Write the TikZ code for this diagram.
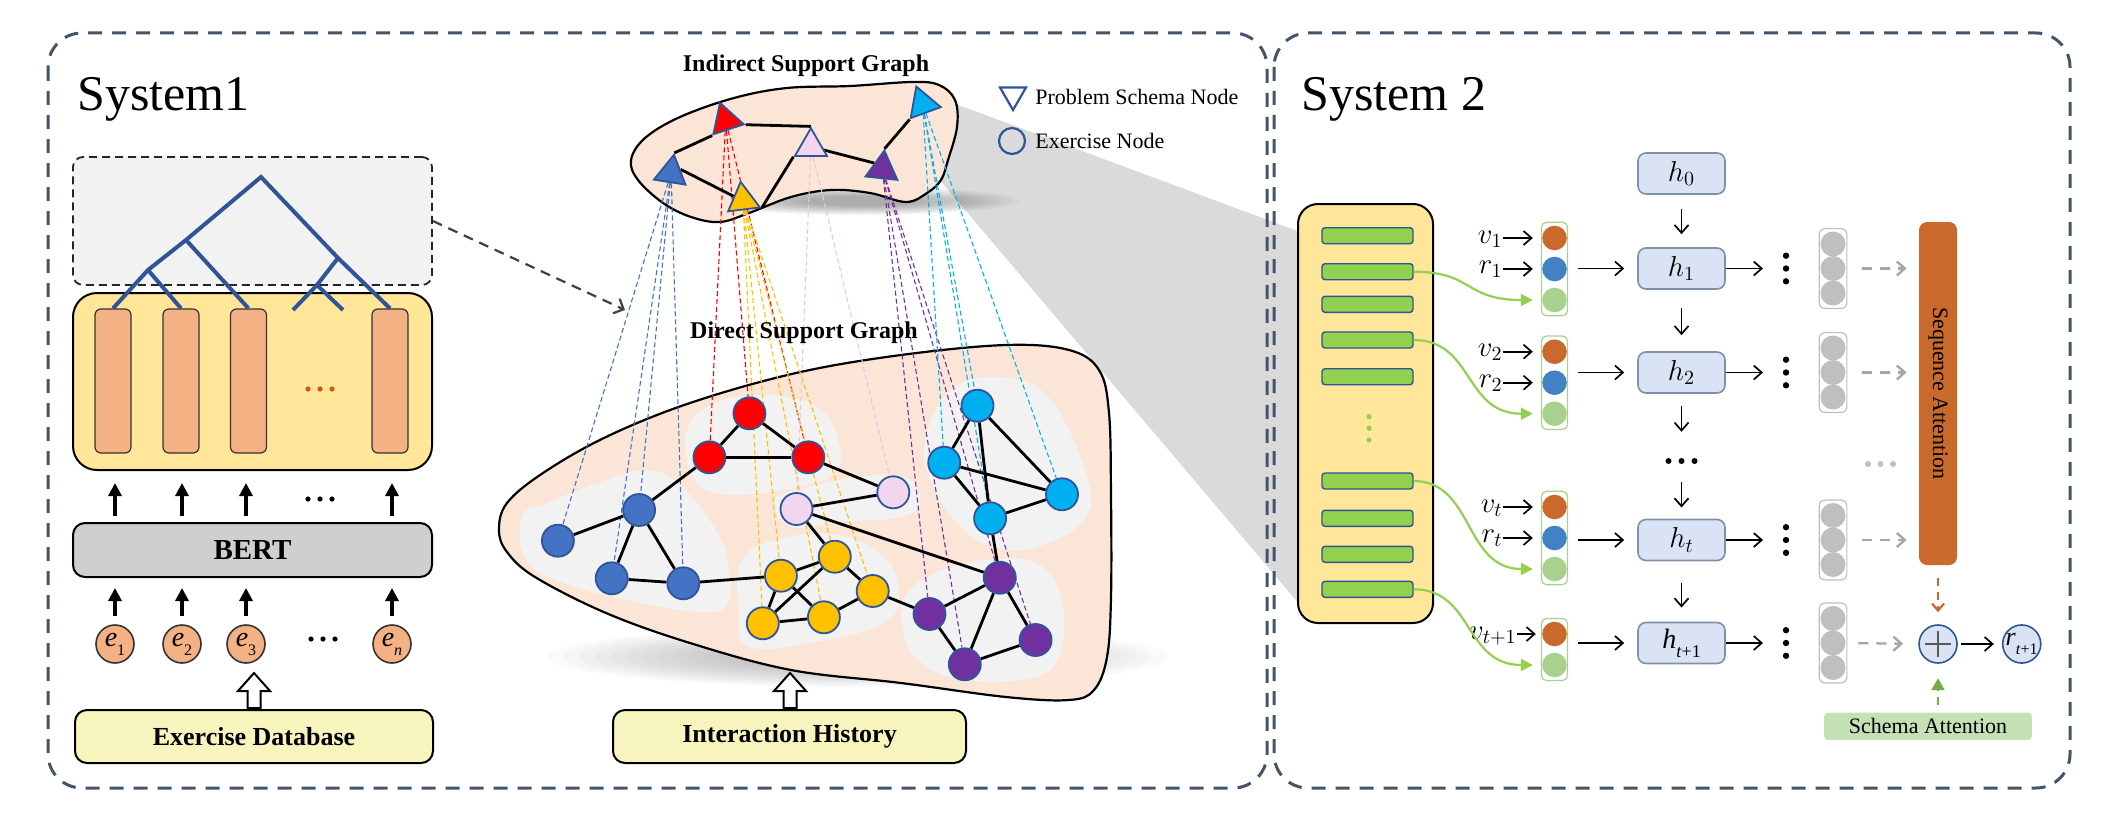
\documentclass[tikz,border=0pt]{standalone}
\usepackage{fontspec}
\setmainfont{Liberation Serif}
\usetikzlibrary{arrows.meta,shapes.geometric,calc}
\pgfdeclarelayer{bg}
\pgfdeclarelayer{edgelayer}
\pgfsetlayers{bg,edgelayer,main}

\definecolor{frameC}{HTML}{44546A}
\definecolor{dendroC}{HTML}{2F5597}
\definecolor{yboxC}{HTML}{FFE699}
\definecolor{barC}{HTML}{F4B183}
\definecolor{bertC}{HTML}{D0CECE}
\definecolor{dbC}{HTML}{F7F4BD}
\definecolor{peachC}{HTML}{FBE5D6}
\definecolor{regC}{HTML}{F2F2F2}
\definecolor{wedgeC}{HTML}{DADADA}
\definecolor{nBlue}{HTML}{4472C4}
\definecolor{nRed}{HTML}{FF0000}
\definecolor{nPink}{HTML}{F2D6EF}
\definecolor{nPinkL}{HTML}{EBC3E8}
\definecolor{nYel}{HTML}{FFC000}
\definecolor{nCyan}{HTML}{00B0F0}
\definecolor{nPur}{HTML}{7030A0}
\definecolor{nodeB}{HTML}{2F5597}
\definecolor{gBar}{HTML}{92D050}
\definecolor{hFill}{HTML}{DAE3F3}
\definecolor{hLine}{HTML}{7F8FA6}
\definecolor{orgC}{RGB}{201,106,44}
\definecolor{bluC}{RGB}{66,129,196}
\definecolor{lgC}{HTML}{A9D18E}
\definecolor{grC}{HTML}{BFBFBF}
\definecolor{grArr}{HTML}{A6A6A6}
\definecolor{schC}{HTML}{C5E0B4}
\definecolor{triG}{HTML}{70AD47}
\definecolor{dotO}{HTML}{C55A11}

\newcommand\lowsub[2][8]{\raisebox{-0.32em}{\fontsize{#1}{#1}\selectfont #2}}

\tikzset{
  frame/.style={draw=frameC, line width=1.5pt, dash pattern=on 7pt off 5pt, rounded corners=17pt},
  dendrobox/.style={draw=black!85, fill=regC, line width=0.9pt, dash pattern=on 4pt off 2.5pt, rounded corners=5pt, minimum width=179.5pt, minimum height=64pt, inner sep=0},
  embbox/.style={draw=black, fill=yboxC, line width=1pt, rounded corners=12pt, minimum width=179.5pt, minimum height=88.5pt, inner sep=0},
  obar/.style={draw=black!80, fill=barC, line width=0.6pt, rounded corners=3pt, minimum width=18pt, minimum height=72pt, inner sep=0},
  dendro/.style={draw=dendroC, line width=2pt},
  bertbox/.style={draw=black, fill=bertC, line width=1pt, rounded corners=6pt, minimum width=179.5pt, minimum height=27pt, inner sep=0, font=\bfseries\fontsize{14.5}{17}\selectfont},
  enode/.style={circle, draw=black!80, fill=barC, line width=0.8pt, minimum size=19pt, inner sep=0, font=\fontsize{14}{16}\selectfont},
  dbbox/.style={draw=black, fill=dbC, line width=1pt, rounded corners=6pt, minimum height=26.5pt, inner sep=0, font=\bfseries\fontsize{13}{15}\selectfont},
  fatarrow/.style={draw=black, line width=1.8pt, -{Triangle[length=6.5pt,width=6.5pt]}},
  hollowup/.pic={\draw[line width=1pt, fill=white] (-6.5,0) -- (-6.5,-17) -- (-16,-17) -- (0,-35) -- (16,-17) -- (6.5,-17) -- (6.5,0) -- cycle;},
  dasharrow/.style={draw=black!75, line width=1.1pt, dash pattern=on 5pt off 3.5pt, -{Straight Barb[length=4pt,width=8pt]}},
  gtitle/.style={font=\bfseries\fontsize{12}{14}\selectfont, inner sep=0},
  blob/.style={draw=black, fill=peachC, line width=1.1pt},
  region/.style={fill=regC},
  tri/.style={regular polygon, regular polygon sides=3, draw=nodeB, line width=0.9pt, minimum size=18.5pt, inner sep=0},
  dnode/.style={circle, draw=nodeB, line width=0.9pt, minimum size=16pt, inner sep=0},
  gedge/.style={draw=black, line width=1.4pt},
  supline/.style={line width=0.55pt, dash pattern=on 2.5pt off 1.5pt},
  legtext/.style={anchor=west, font=\fontsize{11}{13}\selectfont, inner sep=0},
  seqbox/.style={draw=black, fill=yboxC, line width=1pt, rounded corners=10pt, minimum width=67.5pt, minimum height=209.5pt, inner sep=0},
  gbar/.style={draw=nodeB, fill=gBar, line width=0.7pt, rounded corners=1.5pt, minimum width=45.5pt, minimum height=8pt, inner sep=0},
  cgroup/.style={draw=lgC, line width=0.6pt, rounded corners=2.5pt, minimum width=13pt, inner sep=0},
  cc/.style={circle, minimum size=12.3pt, inner sep=0},
  lab/.style={inner sep=0, font=\fontsize{14}{16}\selectfont},
  arr/.style={draw=black, line width=0.85pt, -{Straight Barb[length=4pt,width=7pt]}},
  hbox/.style={draw=hLine, fill=hFill, line width=0.8pt, rounded corners=4pt, minimum width=43.5pt, minimum height=20.5pt, inner sep=0, font=\fontsize{14}{16}\selectfont},
  ggroup/.style={draw=grC, line width=0.6pt, rounded corners=3pt, minimum width=13.85pt, minimum height=40pt, inner sep=0, fill=white},
  gcirc/.style={circle, fill=grC, minimum size=12.5pt, inner sep=0},
  garr/.style={draw=grArr, line width=1.2pt, dash pattern=on 5pt off 4pt, -{Straight Barb[length=4pt,width=7pt]}},
  sattbox/.style={fill=orgC, rounded corners=4pt, minimum width=19pt, minimum height=171.5pt, inner sep=0},
  oarr/.style={draw=orgC, line width=1.1pt, dash pattern=on 4pt off 3pt, -{Straight Barb[length=3.5pt,width=6pt]}},
  plusc/.style={circle, draw=nodeB, fill=hFill, line width=0.8pt, minimum size=19pt, inner sep=0},
  schbox/.style={fill=schC, minimum width=103.85pt, minimum height=13.75pt, inner sep=0, rounded corners=2pt, font=\fontsize{11}{13}\selectfont},
  grarrow/.style={draw=triG, line width=1.2pt, dash pattern=on 4pt off 3pt, -{Triangle[length=6pt,width=6.5pt]}},
  gcurve/.style={draw=gBar, line width=1.1pt, -{Triangle[length=6pt,width=6pt]}},
}

\begin{document}
\begin{tikzpicture}[x=0.5pt,y=-0.5pt]
\useasboundingbox (0,0) rectangle (2112,813);

%================ background layer =================
\begin{pgfonlayer}{bg}
\fill[wedgeC] (945,100) -- (1300,232) -- (1300,605) -- (938,178) -- cycle;
\draw[frame] (48,33) rectangle (1267,788);
\draw[frame] (1274,33) rectangle (2070,788);
\foreach \s in {1,0.95,...,0.3} {
  \fill[black,opacity=0.028] (860,201) ellipse [x radius=160*\s, y radius=14*\s];
  \fill[black,opacity=0.02] (858,657) ellipse [x radius=310*\s, y radius=30*\s];
}
% indirect blob
\draw[blob] plot[smooth cycle, tension=0.6] coordinates {
 (631,160) (645,138) (680,117) (734,98) (787,88) (850,86) (912,82) (939,85) (955,100)
 (957,127) (948,160) (941,180) (927,193) (906,202) (870,193) (831,190) (791,197)
 (749,213) (720,222) (691,217) (663,203) (638,180)};
% direct blob
\draw[blob] plot[smooth cycle, tension=0.6] coordinates {
 (499,530) (507,503) (543,473) (606,437) (690,403) (796,373) (901,355) (1006,345)
 (1069,350) (1099,370) (1109,413) (1111,497) (1111,597) (1107,657) (1094,690)
 (1069,700) (1006,697) (901,683) (791,670) (690,643) (606,613) (535,577) (507,552)};
% cluster regions
\fill[region] plot[smooth cycle, tension=0.7] coordinates {
 (522,517) (547,503) (606,480) (648,470) (682,487) (716,530) (728,563) (728,603)
 (703,612) (640,603) (564,583) (526,560)};
\fill[region] plot[smooth cycle, tension=0.7] coordinates {
 (688,427) (716,403) (766,395) (817,407) (838,440) (834,473) (783,490) (716,493) (690,470)};
\fill[region] plot[smooth cycle, tension=0.7] coordinates {
 (775,500) (808,487) (859,477) (905,477) (920,500) (901,517) (838,522) (791,527)};
\fill[region] plot[smooth cycle, tension=0.7] coordinates {
 (741,563) (775,540) (838,535) (884,557) (899,593) (884,623) (817,642) (749,647) (739,613)};
\fill[region] plot[smooth cycle, tension=0.7] coordinates {
 (926,437) (951,390) (998,377) (1048,397) (1086,473) (1086,517) (1048,543) (1006,550) (964,530) (930,480)};
\fill[region] plot[smooth cycle, tension=0.7] coordinates {
 (905,597) (935,573) (985,560) (1036,563) (1061,597) (1061,650) (1036,677) (964,680) (918,660) (903,630)};
\end{pgfonlayer}

%================ System 1 =================
\node[anchor=base west, inner sep=0, font=\fontsize{25}{30}\selectfont] (s1title) at (77,111) {System1};
\node[dendrobox] (dbox) at (252.5,221) {};
\node[embbox] (embbox) at (252.5,381.5) {};
\node[obar] (o1) at (113,381) {};
\node[obar] (o2) at (181,381) {};
\node[obar] (o3) at (248.5,381) {};
\node[obar] (o4) at (390,381) {};
\foreach \x in {308,320,332} \fill[dotO] (\x,389) circle (2.6);

\coordinate (root) at (261,177);
\coordinate (j1) at (186,240);
\coordinate (j2) at (148,270);
\coordinate (jr) at (338,258);
\coordinate (jr2) at (317,285);
\coordinate (l4a) at (293,310);
\coordinate (l4b) at (343,310);
\draw[dendro] (o1.north) -- (j2) -- (j1) -- (root) -- (jr) -- (o4.north);
\draw[dendro] (j2) -- (o2.north);
\draw[dendro] (j1) -- (o3.north);
\draw[dendro] (jr) -- (jr2) -- (l4a);
\draw[dendro] (jr2) -- (l4b);

\node[bertbox] (bert) at (252.5,550) {BERT};
\node[enode] (e1) at (115,644) {\textit{e}\lowsub{1}};
\node[enode] (e2) at (182,644) {\textit{e}\lowsub{2}};
\node[enode] (e3) at (246,644) {\textit{e}\lowsub{3}};
\node[enode] (e4) at (392,644) {\textit{e}\lowsub{\textit{n}}};
\foreach \e in {e1,e2,e3,e4} {
  \draw[fatarrow, shorten <=4pt, shorten >=5pt] (\e.north) -- (\e.north |- bert.south);
  \draw[fatarrow, shorten <=3pt, shorten >=6pt] (\e |- bert.north) -- (\e |- embbox.south);
}
\foreach \x in {308,320,332} \fill (\x,499) circle (2.6);
\foreach \x in {311,323,335} \fill (\x,639) circle (2.6);

\node[dbbox, minimum width=179pt] (exdb) at (254,736.5) {Exercise Database};
\pic at (254,708) {hollowup};

\coordinate (dgt) at (625,310);
\draw[dasharrow] (dbox.east) -- (dgt);

%================ Graphs =================
\node[gtitle] (indtitle) at (806,66) {Indirect Support Graph};
\node[gtitle] (dirtitle) at (804,333) {Direct Support Graph};

% legend
\node[regular polygon, regular polygon sides=3, shape border rotate=180, draw=nodeB, line width=1.1pt, minimum size=15pt, inner sep=0] (legtri) at (1013,95) {};
\node[legtext] (legt1) at (1035,97) {Problem Schema Node};
\node[circle, draw=nodeB, line width=1.1pt, minimum size=13pt, inner sep=0] (legcirc) at (1012,141) {};
\node[legtext] (legt2) at (1035,141) {Exercise Node};

% triangles
\node[tri, fill=nRed, shape border rotate=18] (tR) at (725.7,120.5) {};
\node[tri, fill=nBlue, shape border rotate=-9] (tB) at (671.1,173) {};
\node[tri, fill=nYel, shape border rotate=7] (tY) at (742.9,200.2) {};
\node[tri, fill=nPink, shape border rotate=0] (tP) at (810.9,146.7) {};
\node[tri, fill=nPur, shape border rotate=-6] (tU) at (882.4,169) {};
\node[tri, fill=nCyan, shape border rotate=20] (tC) at (922.6,103.9) {};

% direct graph nodes
\node[dnode, fill=nBlue] (B1) at (557.9,540.7) {};
\node[dnode, fill=nBlue] (B2) at (639.1,510) {};
\node[dnode, fill=nBlue] (B3) at (611.7,578.3) {};
\node[dnode, fill=nBlue] (B4) at (683.3,583.3) {};
\node[dnode, fill=nRed] (R1) at (749.4,413.3) {};
\node[dnode, fill=nRed] (R2) at (709.4,457.3) {};
\node[dnode, fill=nRed] (R3) at (808.3,457.3) {};
\node[dnode, fill=nPink] (P1) at (796.5,509) {};
\node[dnode, fill=nPink] (P2) at (893.3,492.3) {};
\node[dnode, fill=nYel] (Y1) at (780.9,575.7) {};
\node[dnode, fill=nYel] (Y2) at (834.8,556.7) {};
\node[dnode, fill=nYel] (Y3) at (872.7,591) {};
\node[dnode, fill=nYel] (Y4) at (762.8,623.3) {};
\node[dnode, fill=nYel] (Y5) at (823.9,617.3) {};
\node[dnode, fill=nCyan] (C1) at (977.5,405.7) {};
\node[dnode, fill=nCyan] (C2) at (944.2,462.7) {};
\node[dnode, fill=nCyan] (C3) at (1062,494.3) {};
\node[dnode, fill=nCyan] (C4) at (990.1,518.3) {};
\node[dnode, fill=nPur] (U1) at (999.8,577.7) {};
\node[dnode, fill=nPur] (U2) at (929.5,614) {};
\node[dnode, fill=nPur] (U3) at (1035.6,640) {};
\node[dnode, fill=nPur] (U4) at (964.8,664.3) {};

\node[dbbox, minimum width=176.5pt] (ihist) at (789.5,736.5) {Interaction History};
\pic at (790,708) {hollowup};

\begin{pgfonlayer}{edgelayer}
\foreach \n in {B1,B2,B3,B4} \draw[supline, draw=nBlue] (tB) -- (\n);
\foreach \n in {R1,R2,R3} \draw[supline, draw=nRed] (tR) -- (\n);
\foreach \n in {Y1,Y2,Y3,Y4,Y5} \draw[supline, draw=nYel] (tY) -- (\n);
\foreach \n in {P1,P2} \draw[supline, draw=nPinkL] (tP) -- (\n);
\foreach \n in {U1,U2,U3,U4} \draw[supline, draw=nPur] (tU) -- (\n);
\foreach \n in {C1,C2,C3,C4} \draw[supline, draw=nCyan] (tC) -- (\n);
% indirect graph edges
\draw[gedge] (tR.corner 3) -- (tP.corner 1);
\draw[gedge] (tR.corner 2) -- (tB.corner 1);
\draw[gedge] (tB.side 3) -- (tY.side 1);
\draw[gedge] (tY.corner 3) -- (tP.corner 2);
\draw[gedge] (tP.center) -- (tU.side 1);
\draw[gedge] (tU.corner 1) -- (tC.corner 2);
% direct graph edges
\foreach \a/\b in {B1/B2,B2/B3,B2/B4,B3/B4,B2/R2,R1/R2,R1/R3,R2/R3,R3/P2,P1/P2,P1/Y2,P1/U1,B4/Y1,
  Y1/Y2,Y1/Y5,Y1/Y4,Y2/Y4,Y2/Y3,Y4/Y5,Y5/Y3,Y3/U2,C1/C2,C1/C4,C1/C3,C2/C3,C2/C4,C4/C3,C4/U1,
  U1/U2,U1/U4,U1/U3,U2/U4,U4/U3}
  \draw[gedge] (\a) -- (\b);
\end{pgfonlayer}

%================ System 2 =================
\node[anchor=base west, inner sep=0, font=\fontsize{25}{30}\selectfont] (s2title) at (1301,111) {System 2};
\node[seqbox] (seq) at (1365.5,413.5) {};
\foreach \i/\y in {1/235.7,2/271.7,3/304.3,4/340,5/376.7,6/481,7/518.3,8/554.3,9/589.3}
  \node[gbar] (bar\i) at (1367.5,\y) {};
\foreach \y in {416.7,428.3,440} \fill[gBar] (1369,\y) circle (2.6);

% input circle groups
\node[cgroup, minimum height=46.7pt] (grp1) at (1554.5,269) {};
\node[cc, fill=orgC] (v1c) at (1554.5,238) {};
\node[cc, fill=bluC] (r1c) at (1554.5,269) {};
\node[cc, fill=lgC] (s1c) at (1554.5,300) {};
\node[cgroup, minimum height=46.7pt] (grp2) at (1554.5,382.7) {};
\node[cc, fill=orgC] (v2c) at (1554.5,351.7) {};
\node[cc, fill=bluC] (r2c) at (1554.5,382.7) {};
\node[cc, fill=lgC] (s2c) at (1554.5,413.7) {};
\node[cgroup, minimum height=46.7pt] (grp3) at (1554.5,538) {};
\node[cc, fill=orgC] (vtc) at (1554.5,507) {};
\node[cc, fill=bluC] (rtc) at (1554.5,538) {};
\node[cc, fill=lgC] (stc) at (1554.5,569) {};
\node[cgroup, minimum height=31pt] (grp4) at (1554.5,649.5) {};
\node[cc, fill=orgC] (vnc) at (1554.5,634) {};
\node[cc, fill=lgC] (snc) at (1554.5,665) {};

% labels
\node[lab, anchor=base east] (v1l) at (1503,243) {$v_1$};
\node[lab, anchor=base east] (r1l) at (1503,273.5) {$r_1$};
\node[lab, anchor=base east] (v2l) at (1503,356.5) {$v_2$};
\node[lab, anchor=base east] (r2l) at (1503,387.5) {$r_2$};
\node[lab, anchor=base east] (vtl) at (1503,512) {$v_t$};
\node[lab, anchor=base east] (rtl) at (1503,542.5) {$r_t$};
\node[lab, anchor=base east] (vnl) at (1517,639) {$v_{t+1}$};
\foreach \l/\c in {v1l/v1c,r1l/r1c,v2l/v2c,r2l/r2c,vtl/vtc,rtl/rtc}
  \draw[arr, shorten >=4.5pt] (\l.east |- \c.west) -- (\c.west);
\draw[arr, shorten >=3pt] (vnl.east |- vnc.west) -- (vnc.west);

% green curves
\draw[gcurve, shorten >=4.5pt] (bar2.east) .. controls +(60,0) and +(-78,0) .. (s1c.west);
\draw[gcurve, shorten >=4.5pt] (bar4.east) .. controls +(60,0) and +(-78,0) .. (s2c.west);
\draw[gcurve, shorten >=4.5pt] (bar6.east) .. controls +(60,0) and +(-78,0) .. (stc.west);
\draw[gcurve, shorten >=4.5pt] (bar9.east) .. controls +(60,0) and +(-78,0) .. (snc.west);

% hidden states
\node[hbox] (h0) at (1681.5,173.5) {$h_0$};
\node[hbox] (h1) at (1681.5,268.5) {$h_1$};
\node[hbox] (h2) at (1681.5,372.5) {$h_2$};
\node[hbox] (ht) at (1681.5,540) {$h_t$};
\node[hbox] (htp) at (1681.5,643) {\fontsize{14}{16}\selectfont\textit{h}\lowsub[9]{\textit{t}+1}};
\coordinate (hd) at (1681.5,461);
\foreach \dx in {-13,0,13} \fill ($(hd)+(\dx,0)$) circle (3);

\draw[arr, shorten <=5pt, shorten >=6.5pt] (grp1.east |- h1) -- (h1.west);
\draw[arr, shorten <=5pt, shorten >=6.5pt] (grp2.east |- h2) -- (h2.west);
\draw[arr, shorten <=5pt, shorten >=6.5pt] (grp3.east |- ht) -- (ht.west);
\draw[arr, shorten <=5pt, shorten >=6.5pt] (grp4.east |- htp) -- (htp.west);

\draw[arr, shorten <=7pt, shorten >=6.5pt] (h0.south) -- (h1.north);
\draw[arr, shorten <=9pt, shorten >=8pt] (h1.south) -- (h2.north);
\draw[arr, shorten <=6pt, shorten >=14.6pt] (h2.south) -- (hd);
\draw[arr, shorten <=10.3pt, shorten >=5.6pt] (hd) -- (ht.north);
\draw[arr, shorten <=10.6pt, shorten >=7.1pt] (ht.south) -- (htp.north);

% right side
\node[sattbox] (satt) at (1938,393.5) {};
\node[rotate=-90, inner sep=0, font=\fontsize{11}{13}\selectfont] (sattlab) at (satt.center) {Sequence Attention};
\node[plusc] (plus) at (1938,644) {};
\draw[line width=1.1pt, draw=black!65] ([xshift=-6.5pt]plus.center) -- ([xshift=6.5pt]plus.center);
\draw[line width=1.1pt, draw=black!65] ([yshift=-6.5pt]plus.center) -- ([yshift=6.5pt]plus.center);
\node[plusc] (rout) at (2021.7,644) {\fontsize{13}{15}\selectfont\textit{r}\lowsub{\textit{t}+1}};
\node[schbox] (sch) at (1928,726.3) {Schema Attention};

\foreach \h/\k in {h1/1,h2/2,ht/3,htp/4} {
  \coordinate (vd\k) at (1786,0 |- \h);
  \draw[arr, shorten >=11.5pt] (\h.east) -- (vd\k);
  \foreach \dy in {-12.8,0,12.8} \fill ($(vd\k)+(0,\dy)$) circle (3.2);
  \node[ggroup] (gg\k) at (1833,0 |- \h) {};
  \foreach \dy in {-24.5,0,24.5} \node[gcirc] at ($(gg\k.center)+(0,\dy)$) {};
}
\draw[garr, shorten <=7.5pt, shorten >=6pt] (gg1.east) -- (gg1.east -| satt.west);
\draw[garr, shorten <=7.5pt, shorten >=6pt] (gg2.east) -- (gg2.east -| satt.west);
\draw[garr, shorten <=7.5pt, shorten >=6pt] (gg3.east) -- (gg3.east -| satt.west);
\draw[garr, shorten <=5.5pt, shorten >=7.5pt] (gg4.east) -- (plus.west);
\foreach \x in {1868,1880.5,1893} \fill[grC] (\x,464) circle (3);

\draw[oarr, shorten <=6.5pt, shorten >=6pt] (satt.south) -- (plus.north);
\draw[arr, shorten <=1.5pt, shorten >=4pt] (plus.east) -- (rout.west);
\draw[grarrow, shorten <=3.5pt, shorten >=7.2pt] (sch.north -| plus) -- (plus.south);
\end{tikzpicture}
\end{document}
